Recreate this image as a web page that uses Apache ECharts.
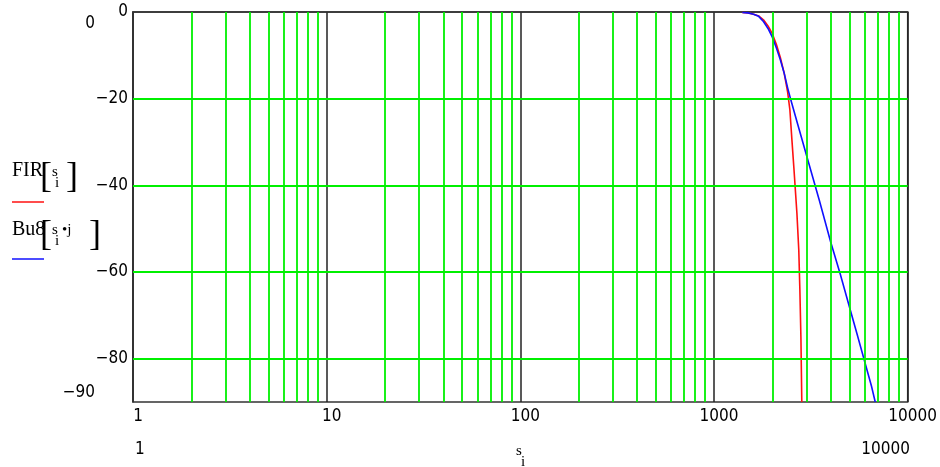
<!DOCTYPE html>
<html>
<head>
<meta charset="utf-8">
<title>FIR / Bu8</title>
<script src="https://cdn.jsdelivr.net/npm/echarts@6/dist/echarts.min.js"></script>
<style>html,body{margin:0;padding:0;background:#fff;}</style>
</head>
<body>
<div id="main" style="width:940px;height:467px;"></div>
<script>
// tick labels / grid positions
var xTicks = [1, 10, 100, 1000, 10000];
var yTicks = [0, -20, -40, -60, -80];
var yGrid = [-20, -40, -60, -80];

// [frequency, dB]
var firData = [
    [1400, -0.1], [1500, -0.2], [1600, -0.5], [1700, -0.9], [1800, -1.8],
    [1900, -3.2], [2000, -5.0], [2100, -7.5], [2200, -10.5], [2300, -14.0],
    [2400, -18.5], [2465, -22.6], [2525, -29.5], [2585, -36.0], [2680, -46.5],
    [2740, -55.0], [2775, -64.0], [2810, -75.0], [2840, -90.0]
];
var bu8Data = [
    [1400, -0.1], [1500, -0.2], [1600, -0.5], [1700, -1.0], [1800, -2.2],
    [1900, -3.8], [2000, -5.8], [2100, -8.3], [2200, -11.0], [2300, -14.0],
    [2400, -17.5], [2500, -20.5], [2700, -25.8], [3000, -33.0], [3500, -43.5],
    [4000, -53.0], [4500, -60.7], [5000, -68.0], [5500, -74.6], [6000, -80.7],
    [6500, -86.3], [6800, -90.0]
];

var NUM = "'Liberation Sans Narrow','DejaVu Sans Condensed',sans-serif";
var SERIF = "'Liberation Serif','DejaVu Serif',serif";
var GREEN = '#00f000';

// minor log grid lines 2..9 in every decade
var minorX = [];
for (var d = 1; d < 10000; d *= 10) {
    for (var k = 2; k <= 9; k++) minorX.push(d * k);
}

function minus(v) {
    return v < 0 ? '\u2212' + (-v) : String(v);
}

function txt(x, y, s, size, font, align) {
    return {
        type: 'text', x: x, y: y, silent: true,
        style: { text: s, fontSize: size, fontFamily: font, fill: '#000',
                 align: align || 'left', verticalAlign: 'middle' }
    };
}

var myChart = echarts.init(document.getElementById('main'));

myChart.setOption({
    animation: false,
    grid: {
        left: 133, right: 31, top: 12, bottom: 65,
        show: true, borderColor: '#333', borderWidth: 1.5
    },
    xAxis: {
        type: 'log', logBase: 10, min: 1, max: 10000,
        axisLine: { show: true, lineStyle: { color: '#333', width: 1.5 } },
        axisTick: { show: false },
        splitLine: { show: true, lineStyle: { color: '#222', width: 1.5 } },
        axisLabel: {
            margin: 6, color: '#000', fontSize: 17, fontFamily: NUM,
            padding: [0, 0, 0, 10],
            formatter: function (v) { return String(Math.round(v)); }
        }
    },
    yAxis: {
        type: 'value', min: -90, max: 0,
        axisLine: { show: true, lineStyle: { color: '#333', width: 1.5 } },
        axisTick: { show: false },
        splitLine: { show: false },
        axisLabel: {
            customValues: yTicks, margin: 5, color: '#000',
            fontSize: 17, fontFamily: NUM, formatter: minus
        }
    },
    series: [
        {
            name: 'grid', type: 'line', data: [], silent: true, z: 1,
            markLine: {
                silent: true, symbol: 'none', label: { show: false },
                lineStyle: { color: GREEN, width: 1.8, type: 'solid' },
                data: minorX.map(function (v) { return { xAxis: v }; })
                    .concat(yGrid.map(function (v) { return { yAxis: v }; }))
            }
        },
        {
            name: 'FIR', type: 'line', data: firData, showSymbol: false, z: 3,
            lineStyle: { color: '#ff1010', width: 1.6 }, clip: true
        },
        {
            name: 'Bu8', type: 'line', data: bu8Data, showSymbol: false, z: 4,
            lineStyle: { color: '#1010ff', width: 1.6 }, clip: true
        }
    ],
    graphic: [
        // axis limit labels
        txt(95, 24, '0', 17, NUM, 'right'),
        txt(95, 393, '\u221290', 17, NUM, 'right'),
        txt(135, 450, '1', 17, NUM, 'left'),
        txt(910, 450, '10000', 17, NUM, 'right'),
        // x axis name s_i
        txt(516, 451, 's', 15, SERIF, 'left'),
        txt(521, 462, 'i', 15, SERIF, 'left'),
        // legend FIR[s_i]
        txt(12, 171, 'FIR', 20, SERIF, 'left'),
        txt(40, 178, '[', 36, SERIF, 'left'),
        txt(52, 172, 's', 15, SERIF, 'left'),
        txt(55, 183, 'i', 15, SERIF, 'left'),
        txt(66, 178, ']', 36, SERIF, 'left'),
        { type: 'line', shape: { x1: 12, y1: 202, x2: 44, y2: 202 },
          style: { stroke: '#ff1010', lineWidth: 1.5 } },
        // legend Bu8[s_i*j]
        txt(12, 230, 'Bu8', 20, SERIF, 'left'),
        txt(40, 236, '[', 36, SERIF, 'left'),
        txt(52, 230, 's', 15, SERIF, 'left'),
        txt(55, 241, 'i', 15, SERIF, 'left'),
        txt(62, 230, '\u2022j', 15, SERIF, 'left'),
        txt(89, 236, ']', 36, SERIF, 'left'),
        { type: 'line', shape: { x1: 12, y1: 259, x2: 44, y2: 259 },
          style: { stroke: '#1010ff', lineWidth: 1.5 } }
    ]
});
</script>
</body>
</html>
